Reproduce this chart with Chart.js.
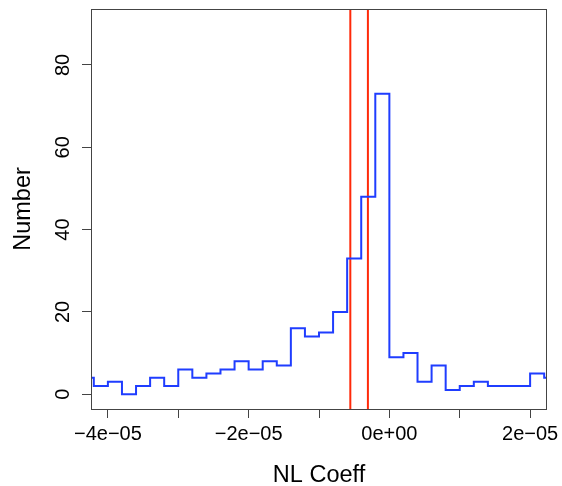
<!DOCTYPE html>
<html lang="en">
<head>
    <meta charset="UTF-8">
    <script src="https://cdn.jsdelivr.net/npm/chart.js@4.4.1/dist/chart.umd.min.js"></script>
    <title>NL Coeff histogram</title>
    <style>
        html, body { margin: 0; padding: 0; background: #fff; }
        #wrap { width: 562px; height: 486px; }
    </style>
</head>
<body>
    <div id="wrap"><canvas id="chart" width="562" height="486"></canvas></div>

    <script>
        // histogram bin edges (left edges, last one is the right edge of the last bin)
        const binEdges = [
            -4.4e-5, -4.2e-5, -4.0e-5, -3.8e-5, -3.6e-5, -3.4e-5, -3.2e-5, -3.0e-5, -2.8e-5,
            -2.6e-5, -2.4e-5, -2.2e-5, -2.0e-5, -1.8e-5, -1.6e-5, -1.4e-5, -1.2e-5, -1.0e-5,
            -0.8e-5, -0.6e-5, -0.4e-5, -0.2e-5, 0, 0.2e-5, 0.4e-5, 0.6e-5, 0.8e-5, 1.0e-5,
            1.2e-5, 1.4e-5, 1.6e-5, 1.8e-5, 2.0e-5, 2.2e-5, 2.4e-5
        ];
        const counts = [
            4, 2, 3, 0, 2, 4, 2, 6, 4, 5, 6, 8, 6, 8, 7, 16, 14, 15,
            20, 33, 48, 73, 9, 10, 3, 7, 1, 2, 3, 2, 2, 2, 5, 4
        ];
        const redLines = [-5.55e-6, -3.05e-6];

        const xTicks = [-4e-5, -3e-5, -2e-5, -1e-5, 0, 1e-5, 2e-5];
        const xTickLabels = ['\u22124e\u221205', '', '\u22122e\u221205', '', '0e+00', '', '2e\u221205'];
        const yTicks = [0, 20, 40, 60, 80];

        const stepPoints = binEdges.map((e, i) => ({ x: e, y: i < counts.length ? counts[i] : counts[counts.length - 1] }));

        const boxPlugin = {
            id: 'box',
            afterDraw(chart) {
                const { ctx, chartArea: a } = chart;
                ctx.save();
                ctx.strokeStyle = '#444';
                ctx.lineWidth = 1;
                ctx.strokeRect(a.left + 0.5, a.top + 0.5, a.right - a.left - 1, a.bottom - a.top);
                ctx.restore();
            }
        };

        const font = 'Liberation Sans, Arial, Helvetica, sans-serif';

        const datasets = [{
            data: stepPoints,
            stepped: 'before',
            borderColor: '#1f3dff',
            borderWidth: 2,
            pointRadius: 0,
            fill: false
        }];
        redLines.forEach(v => datasets.push({
            data: [{ x: v, y: -10 }, { x: v, y: 100 }],
            borderColor: '#ff2a0a',
            borderWidth: 2,
            pointRadius: 0,
            fill: false
        }));

        new Chart(document.getElementById('chart'), {
            type: 'line',
            data: { datasets },
            plugins: [boxPlugin],
            options: {
                responsive: false,
                animation: false,
                layout: { padding: { top: 9, right: 15, left: 0, bottom: 0 } },
                plugins: { legend: { display: false }, tooltip: { enabled: false } },
                scales: {
                    x: {
                        type: 'linear',
                        min: -4.24e-5,
                        max: 2.24e-5,
                        afterBuildTicks: s => { s.ticks = xTicks.map(v => ({ value: v })); },
                        afterFit: s => { s.height = 77; s.paddingLeft = 0; s.paddingRight = 0; },
                        border: { display: false },
                        grid: { drawOnChartArea: false, drawTicks: true, tickLength: 9, color: '#444' },
                        ticks: {
                            callback: (v, i) => xTickLabels[i],
                            autoSkip: false,
                            maxRotation: 0,
                            padding: 4,
                            color: '#000',
                            font: { family: font, size: 20 }
                        },
                        title: {
                            display: true,
                            text: 'NL Coeff',
                            color: '#000',
                            padding: { top: 6, bottom: -4 },
                            font: { family: font, size: 23.5 }
                        }
                    },
                    y: {
                        min: -3.6,
                        max: 93.6,
                        afterBuildTicks: s => { s.ticks = yTicks.map(v => ({ value: v })); },
                        afterFit: s => { s.width = 91; s.paddingTop = 0; s.paddingBottom = 0; },
                        border: { display: false },
                        grid: { drawOnChartArea: false, drawTicks: true, tickLength: 9, color: '#444' },
                        ticks: {
                            minRotation: 90,
                            maxRotation: 90,
                            crossAlign: 'center',
                            padding: 7,
                            color: '#000',
                            font: { family: font, size: 20 }
                        },
                        title: {
                            display: true,
                            text: 'Number',
                            color: '#000',
                            padding: { top: 9, bottom: 0 },
                            font: { family: font, size: 23.5 }
                        }
                    }
                }
            }
        });
    </script>
</body>
</html>
